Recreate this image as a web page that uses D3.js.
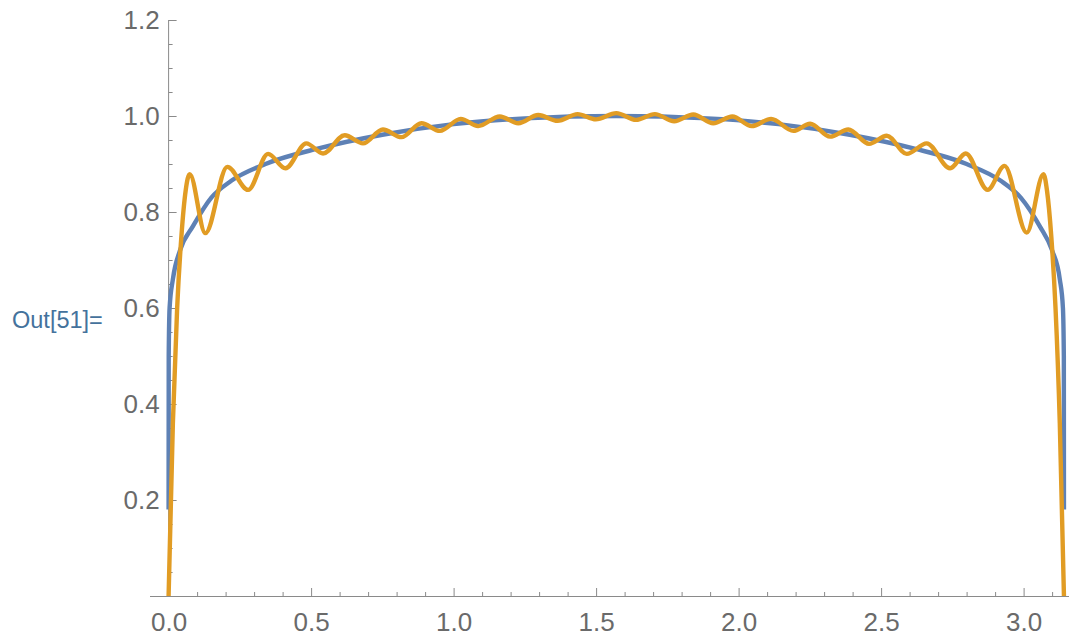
<!DOCTYPE html>
<html>
<head>
<meta charset="utf-8">
<script src="https://cdn.jsdelivr.net/npm/d3@7"></script>
<style>
  html, body { margin: 0; padding: 0; background: #fff; }
  svg { display: block; }
  .tick text { font-family: "Liberation Sans", Arial, sans-serif; }
</style>
</head>
<body>
<svg id="chart" width="1069" height="637"></svg>
<script>
// Smooth envelope curve (blue): x positions and values
const blueX = [0, 0.0004, 0.0035, 0.015, 0.04, 0.085, 0.15, 0.22, 0.34, 0.53, 0.75, 1.0, 1.25, 1.5708,
               1.89, 2.14, 2.39, 2.61, 2.80, 2.92, 2.99, 3.057, 3.10, 3.127, 3.138, 3.1412, 3.1416];
const blueY = [0.18, 0.50, 0.60, 0.66, 0.72, 0.77, 0.83, 0.865, 0.90, 0.933, 0.961, 0.983, 0.995, 1.0,
               0.995, 0.983, 0.961, 0.933, 0.90, 0.865, 0.83, 0.77, 0.72, 0.66, 0.60, 0.50, 0.18];

// Oscillating partial-sum curve (orange): extrema and edge points
const orangeX = [0, 0.015, 0.03, 0.045, 0.06, 0.074, 0.129, 0.206, 0.279, 0.349, 0.41, 0.483, 0.542,
                 0.618, 0.682, 0.752, 0.817, 0.887, 0.952, 1.025, 1.086, 1.162, 1.227, 1.297, 1.365,
                 1.435, 1.499, 1.571, 1.640, 1.706, 1.774, 1.841, 1.911, 1.978, 2.046, 2.114, 2.192,
                 2.251, 2.321, 2.385, 2.458, 2.520, 2.590, 2.660, 2.742, 2.797, 2.874, 2.933, 3.011,
                 3.070, 3.082, 3.097, 3.112, 3.127, 3.1416];
const orangeY = [0, 0.36, 0.60, 0.75, 0.845, 0.879, 0.756, 0.894, 0.846, 0.921, 0.891, 0.943, 0.922,
                 0.960, 0.943, 0.972, 0.956, 0.985, 0.969, 0.994, 0.979, 0.999, 0.985, 1.002, 0.990,
                 1.004, 0.993, 1.006, 0.992, 1.004, 0.989, 1.003, 0.985, 0.999, 0.979, 0.994, 0.969,
                 0.984, 0.957, 0.972, 0.942, 0.959, 0.921, 0.943, 0.891, 0.922, 0.846, 0.896, 0.757,
                 0.879, 0.845, 0.75, 0.60, 0.36, 0];

// Axis ticks
const xMajorTicks = [0, 0.5, 1.0, 1.5, 2.0, 2.5, 3.0];
const xTickLabels = ["0.0", "0.5", "1.0", "1.5", "2.0", "2.5", "3.0"];
const xMinorTicks = [0.1, 0.2, 0.3, 0.4, 0.6, 0.7, 0.8, 0.9, 1.1, 1.2, 1.3, 1.4, 1.6, 1.7, 1.8, 1.9,
                     2.1, 2.2, 2.3, 2.4, 2.6, 2.7, 2.8, 2.9, 3.1];
const yMajorTicks = [0.2, 0.4, 0.6, 0.8, 1.0, 1.2];
const yTickLabels = ["0.2", "0.4", "0.6", "0.8", "1.0", "1.2"];
const yMinorTicks = [0.05, 0.1, 0.15, 0.25, 0.3, 0.35, 0.45, 0.5, 0.55, 0.65, 0.7, 0.75, 0.85, 0.9,
                     0.95, 1.05, 1.1, 1.15];

const svg = d3.select("#chart");

const x = d3.scaleLinear().domain([0, 3]).range([168.6, 1023.6]);
const y = d3.scaleLinear().domain([0, 1.2]).range([596, 20]);

const axisColor = "#8a8a8a";
const labelColor = "#6a6a6a";

// Axis lines
svg.append("line")
  .attr("x1", 150).attr("x2", 1069)
  .attr("y1", y(0) + 0.5).attr("y2", y(0) + 0.5)
  .attr("stroke", axisColor).attr("stroke-width", 1);
svg.append("line")
  .attr("x1", x(0)).attr("x2", x(0))
  .attr("y1", y(1.2)).attr("y2", y(0))
  .attr("stroke", axisColor).attr("stroke-width", 1);

// X axis: major ticks with labels, then minor ticks
const xAxisMajor = svg.append("g")
  .attr("transform", `translate(0,${y(0)})`)
  .call(d3.axisBottom(x).tickValues(xMajorTicks)
    .tickFormat((d, i) => xTickLabels[i]).tickSize(-8).tickPadding(17));
const xAxisMinor = svg.append("g")
  .attr("transform", `translate(0,${y(0)})`)
  .call(d3.axisBottom(x).tickValues(xMinorTicks).tickFormat("").tickSize(-4));

// Y axis: major ticks with labels, then minor ticks
const yAxisMajor = svg.append("g")
  .attr("transform", `translate(${x(0)},0)`)
  .call(d3.axisLeft(y).tickValues(yMajorTicks)
    .tickFormat((d, i) => yTickLabels[i]).tickSize(-8).tickPadding(9));
const yAxisMinor = svg.append("g")
  .attr("transform", `translate(${x(0)},0)`)
  .call(d3.axisLeft(y).tickValues(yMinorTicks).tickFormat("").tickSize(-4));

[xAxisMajor, xAxisMinor, yAxisMajor, yAxisMinor].forEach(g => {
  g.select(".domain").remove();
  g.selectAll(".tick line").attr("stroke", axisColor);
  g.selectAll(".tick text")
    .attr("fill", labelColor)
    .style("font-size", "26px")
    .style("font-family", "'Liberation Sans', Arial, sans-serif");
});

// Curves
const line = d3.line()
  .x(d => x(d[0]))
  .y(d => y(d[1]))
  .curve(d3.curveMonotoneX);

const blueData = blueX.map((v, i) => [v, blueY[i]]);
const orangeData = orangeX.map((v, i) => [v, orangeY[i]]);

svg.append("path")
  .datum(blueData)
  .attr("d", line)
  .attr("fill", "none")
  .attr("stroke", "#5E81B5")
  .attr("stroke-width", 4.4);

svg.append("path")
  .datum(orangeData)
  .attr("d", line)
  .attr("fill", "none")
  .attr("stroke", "#E19C24")
  .attr("stroke-width", 4.4);

// Output cell label
svg.append("text")
  .attr("x", 12)
  .attr("y", 328)
  .attr("fill", "#44729c")
  .style("font-family", "'Liberation Sans', Arial, sans-serif")
  .style("font-size", "23.5px")
  .text("Out[51]=");
</script>
</body>
</html>
